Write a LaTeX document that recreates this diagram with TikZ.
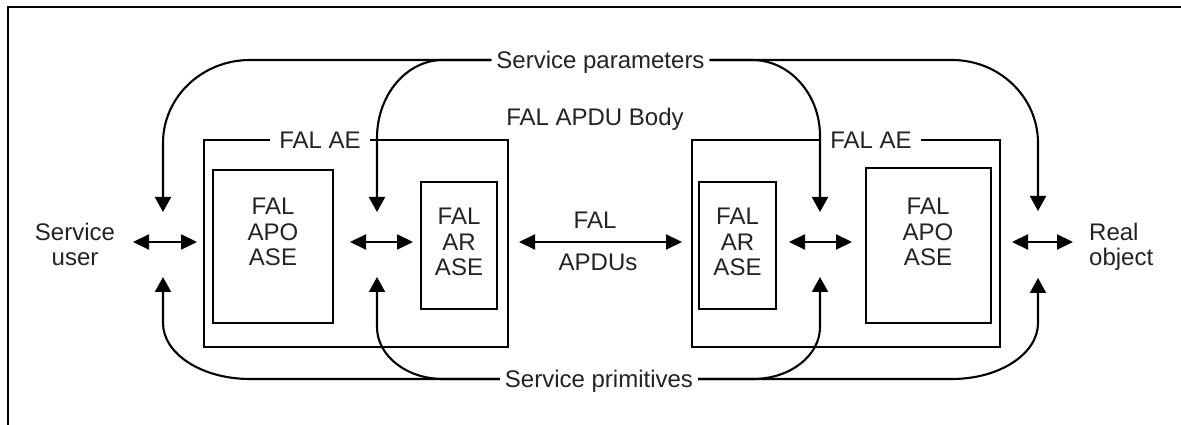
\documentclass[tikz,border=0pt]{standalone}
\usepackage{fontspec}
\setmainfont{Liberation Sans}
\usetikzlibrary{arrows.meta}
\definecolor{txtc}{RGB}{35,35,35}
\begin{document}
\begin{tikzpicture}[x=1pt,y=1pt,
  lbl/.style={font=\fontsize{24}{25.5}\selectfont, text=txtc, inner sep=0pt, align=center},
  one/.style={lbl, text height=17.2pt, text depth=0pt},
  gaplbl/.style={one, fill=white, inner ysep=2pt, inner xsep=9pt},
  box/.style={draw, line width=2.6pt, inner sep=0pt},
  conn/.style={line width=2.1pt},
  tip/.style={-{Triangle[width=16pt,length=15pt]}},
  dtip/.style={{Triangle[width=15pt,length=16pt]}-{Triangle[width=15pt,length=16pt]}}]
\useasboundingbox (0,0) rectangle (1181,425);
\draw[line width=2.4pt] (8,0) -- (8,418) -- (1181,418);

% boxes
\node[box, minimum width=304pt, minimum height=207pt] (aeL) at (356,181.5) {};
\node[box, minimum width=308pt, minimum height=207pt] (aeR) at (846,181.5) {};
\node[gaplbl] (aeLt) at (320,285) {FAL AE};
\node[gaplbl] (aeRt) at (871,285) {FAL AE};
\node[box, minimum width=120pt, minimum height=153pt] (apoL) at (273,178.5) {};
\node[lbl] (apoLt) at (273,193) {FAL\\APO\\ASE};
\node[box, minimum width=76pt, minimum height=127pt] (arL) at (459,179.5) {};
\node[lbl] (arLt) at (459,183) {FAL\\AR\\ASE};
\node[box, minimum width=77pt, minimum height=127pt] (arR) at (737.5,179.5) {};
\node[lbl] (arRt) at (737.5,183) {FAL\\AR\\ASE};
\node[box, minimum width=125pt, minimum height=155pt] (apoR) at (928.5,179.5) {};
\node[lbl] (apoRt) at (928,193) {FAL\\APO\\ASE};

% texts
\node[lbl] (user) at (75,180.5) {Service\\user};
\node[lbl, align=left, anchor=west] (real) at (1089,178) {Real\\object};
\node[one] (body) at (595,308) {FAL APDU Body};
\node[one] (fal) at (595,205) {FAL};
\node[one] (apdus) at (598,163) {APDUs};
\node[gaplbl, inner xsep=5pt] (sp) at (600.5,365) {Service parameters};
\node[gaplbl, inner xsep=5pt] (prim) at (599,46) {Service primitives};

% arrow end points
\coordinate (pTa) at (163,213);
\coordinate (pTb) at (377,213);
\coordinate (pTc) at (820,213);
\coordinate (pTd) at (1038,214);
\coordinate (pBa) at (163,148);
\coordinate (pBb) at (377,148);
\coordinate (pBc) at (820,148);
\coordinate (pBd) at (1038,147);
\coordinate (h1a) at (133,183); \coordinate (h1b) at (197,183);
\coordinate (h2a) at (350,183); \coordinate (h2b) at (413,183);
\coordinate (h3a) at (519,183); \coordinate (h3b) at (682,183);
\coordinate (h4a) at (789,183); \coordinate (h4b) at (852,183);
\coordinate (h5a) at (1012,183); \coordinate (h5b) at (1073,183);

% service parameters
\draw[conn,tip] (sp.west) -- (250,365) arc[start angle=90,end angle=180,x radius=87,y radius=83] -- (pTa);
\draw[conn,tip] (sp.west) -- (443,365) arc[start angle=90,end angle=180,x radius=66,y radius=78] -- (pTb);
\draw[conn,tip] (sp.east) -- (752,365) arc[start angle=90,end angle=0,x radius=68,y radius=76] -- (pTc);
\draw[conn,tip] (sp.east) -- (952,365) arc[start angle=90,end angle=0,x radius=86,y radius=83] -- (pTd);

% service primitives
\draw[conn,tip] (prim.west) -- (250,46) arc[start angle=270,end angle=180,x radius=87,y radius=56] -- (pBa);
\draw[conn,tip] (prim.west) -- (443,46) arc[start angle=270,end angle=180,x radius=66,y radius=52] -- (pBb);
\draw[conn,tip] (prim.east) -- (753,46) arc[start angle=270,end angle=360,x radius=67,y radius=52] -- (pBc);
\draw[conn,tip] (prim.east) -- (952,46) arc[start angle=270,end angle=360,x radius=86,y radius=56] -- (pBd);

% horizontal double arrows
\draw[conn,dtip] (h1a) -- (h1b);
\draw[conn,dtip] (h2a) -- (h2b);
\draw[conn,dtip] (h3a) -- (h3b);
\draw[conn,dtip] (h4a) -- (h4b);
\draw[conn,dtip] (h5a) -- (h5b);
\end{tikzpicture}
\end{document}
